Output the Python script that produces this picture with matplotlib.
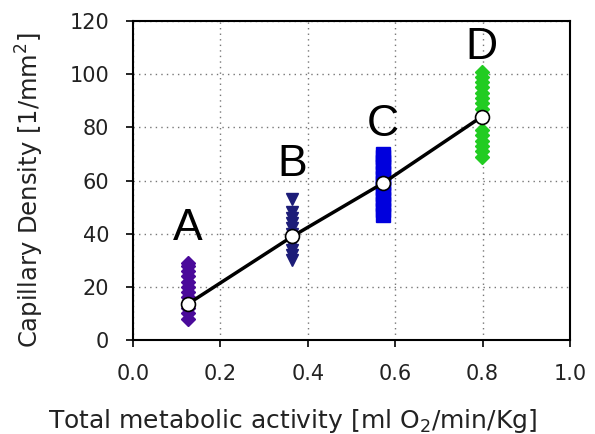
import numpy as np
import matplotlib
matplotlib.use("Agg")
import matplotlib.pyplot as plt

plt.rcParams['font.family'] = ['DejaVu Sans']

# group positions (x) and individual capillary density values
group_names = ["A", "B", "C", "D"]
group_x = [0.125, 0.365, 0.572, 0.798]
a_vals = [8, 10, 12, 14, 16, 18, 20, 22, 24, 26, 28, 29]
b_vals = [30, 32, 34, 36, 38, 40, 42, 44, 46, 48, 53]
c_vals = [47, 49, 51, 53, 55, 57, 59, 61, 63, 65, 67, 69, 70]
d_vals = [69, 71, 73, 75, 77, 79, 87, 89, 91, 93, 95, 97, 99, 101]
mean_vals = [13.5, 39, 59, 84]
label_y = [42, 66, 81, 110]

colors = ["#4a0a9a", "#1c1c78", "#0000dd", "#22cc22"]
markers = ["D", "v", "s", "D"]
sizes = [7, 8, 9.5, 7]

fig = plt.figure(figsize=(5.95, 4.34), dpi=100)
ax = fig.add_axes([0.2235, 0.2166, 0.7345, 0.735])

for x, vals, c, m, s in zip(group_x, [a_vals, b_vals, c_vals, d_vals], colors, markers, sizes):
    ax.plot([x] * len(vals), vals, linestyle="none", marker=m, color=c,
            markersize=s, markeredgecolor=c, zorder=3)

ax.plot(group_x, mean_vals, color="black", linewidth=2.5, zorder=4)
ax.plot(group_x, mean_vals, linestyle="none", marker="o", markersize=10,
        markerfacecolor="white", markeredgecolor="black", markeredgewidth=1.2, zorder=5)

for name, x, y in zip(group_names, group_x, label_y):
    ax.text(x, y, name, fontsize=32, ha="center", va="center", zorder=6,
            family="Liberation Sans")

ax.set_xlim(0, 1.0)
ax.set_ylim(0, 120)
ax.set_xticks(np.arange(0, 1.01, 0.2))
ax.set_yticks(np.arange(0, 121, 20))
ax.set_xticklabels(["0.0", "0.2", "0.4", "0.6", "0.8", "1.0"])
ax.tick_params(direction="out", length=5, width=1.2, labelsize=15, pad=12,
               labelcolor="#222222")
ax.grid(True, linestyle=(0, (1, 3)), color="#777777", linewidth=1)
ax.set_axisbelow(True)
for sp in ax.spines.values():
    sp.set_linewidth(1.5)

ax.set_ylabel("Capillary Density [1/mm$^2$]", fontsize=17.5, color="#222222")
ax.yaxis.label.set_va("center")
ax.yaxis.set_label_coords(-0.236, 0.469)

ax.set_xlabel("Total metabolic activity [ml O$_2$/min/Kg]", fontsize=18, color="#222222")
ax.xaxis.label.set_va("baseline")
ax.xaxis.set_label_coords(0.364, -0.275)

fig.savefig("out.png", dpi=100)
